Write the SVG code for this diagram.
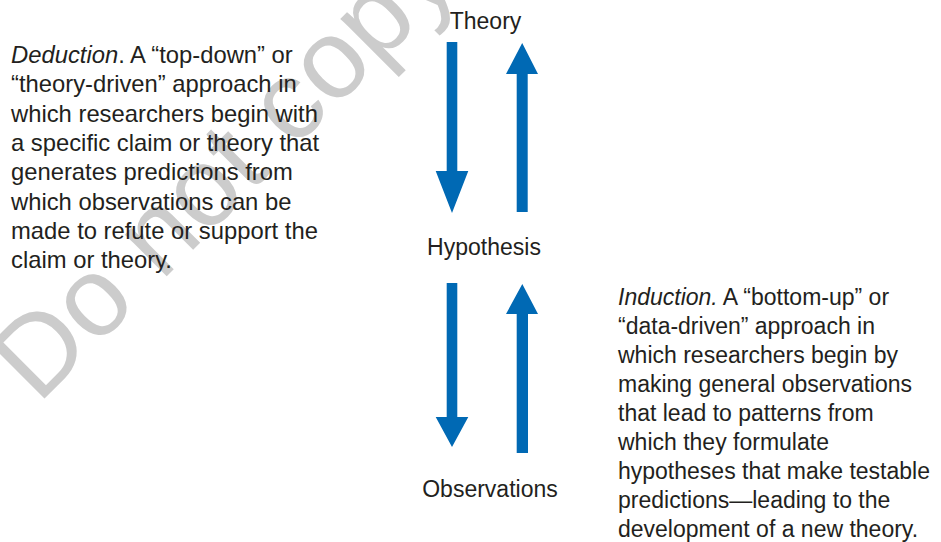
<svg xmlns="http://www.w3.org/2000/svg" width="941" height="542" viewBox="0 0 941 542">
<defs>
<style>
.t{font-family:"Liberation Sans",Arial,Helvetica,sans-serif;font-size:23px;fill:#231f20}
.tl{font-family:"Liberation Sans",Arial,Helvetica,sans-serif;font-size:23.8px;fill:#231f20}
.lbl{font-family:"Liberation Sans",Arial,Helvetica,sans-serif;font-size:23px;fill:#231f20;text-anchor:middle}
.wm{font-family:"Liberation Sans",Arial,Helvetica,sans-serif;font-size:112px;fill:#cccccc}
.arr{fill:#0069b4}
</style>
</defs>
<rect width="941" height="542" fill="#ffffff"/>
<text class="wm" transform="translate(38,405) rotate(-45)">Do not copy</text>
<g id="deduction">
<text class="tl" x="11" y="63"><tspan font-style="italic">Deduction</tspan>. A “top-down” or</text>
<text class="tl" x="11" y="92.3">“theory-driven” approach in</text>
<text class="tl" x="11" y="121.6">which researchers begin with</text>
<text class="tl" x="11" y="150.9">a specific claim or theory that</text>
<text class="tl" x="11" y="180.2">generates predictions from</text>
<text class="tl" x="11" y="209.5">which observations can be</text>
<text class="tl" x="11" y="238.8">made to refute or support the</text>
<text class="tl" x="11" y="268.1">claim or theory.</text>
</g>
<g id="induction">
<text class="t" x="618" y="305"><tspan font-style="italic">Induction.</tspan> A “bottom-up” or</text>
<text class="t" x="618" y="334">“data-driven” approach in</text>
<text class="t" x="618" y="363">which researchers begin by</text>
<text class="t" x="618" y="392">making general observations</text>
<text class="t" x="618" y="421">that lead to patterns from</text>
<text class="t" x="618" y="450">which they formulate</text>
<text class="t" x="618" y="479">hypotheses that make testable</text>
<text class="t" x="618" y="508">predictions—leading to the</text>
<text class="t" x="618" y="537">development of a new theory.</text>
</g>
<g id="theory"><text class="lbl" x="485.5" y="29">Theory</text></g>
<g id="hypothesis"><text class="lbl" x="484" y="255">Hypothesis</text></g>
<g id="observations"><text class="lbl" x="490" y="497">Observations</text></g>
<g id="connectors">
<polygon class="arr" points="446.7,42 457.3,42 457.3,171 468.3,171 452,213 435.7,171 446.7,171"/>
<polygon class="arr" points="516.7,212 527.7,212 527.7,74 538,74 522.2,43 506,74 516.7,74"/>
<polygon class="arr" points="446.7,283 457.3,283 457.3,417 468.3,417 452,447 435.7,417 446.7,417"/>
<polygon class="arr" points="516.7,453 528,453 528,314 538,314 522.3,284 506,314 516.7,314"/>
</g>
</svg>
